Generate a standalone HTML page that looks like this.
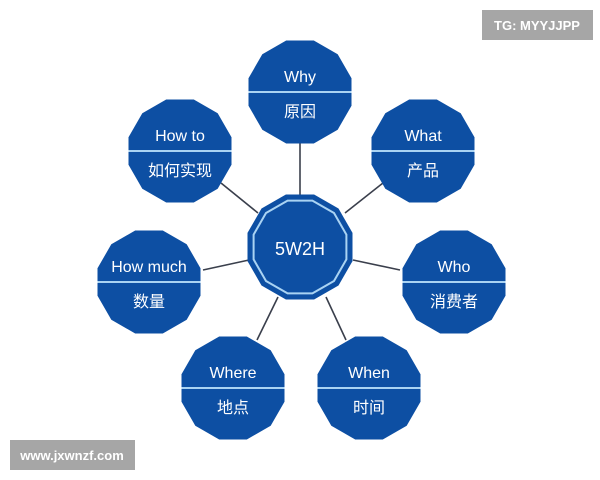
<!DOCTYPE html>
<html><head><meta charset="utf-8"><style>
html,body{margin:0;padding:0;background:#fff;width:600px;height:480px;overflow:hidden}
svg text{font-family:"Liberation Sans","Noto Sans CJK SC",sans-serif;fill:#fff;text-anchor:middle}
</style></head><body>
<svg width="600" height="480" viewBox="0 0 600 480" xmlns="http://www.w3.org/2000/svg">
<defs>
<polygon id="p" points="51.5,13.8 37.7,37.7 13.8,51.5 -13.8,51.5 -37.7,37.7 -51.5,13.8 -51.5,-13.8 -37.7,-37.7 -13.8,-51.5 13.8,-51.5 37.7,-37.7 51.5,-13.8" fill="#0d4fa3"/>
<g id="n"><use href="#p"/><line x1="-51.5" y1="0" x2="51.5" y2="0" stroke="#a9d3f3" stroke-width="2"/></g>
</defs>
<g stroke="#3a3f4c" stroke-width="1.6">
<line x1="300" y1="143" x2="300" y2="196"/>
<line x1="221" y1="183" x2="258" y2="213"/>
<line x1="383" y1="183" x2="345" y2="213"/>
<line x1="203" y1="270" x2="249" y2="260"/>
<line x1="400" y1="270" x2="353" y2="260"/>
<line x1="257" y1="340" x2="278" y2="297"/>
<line x1="346" y1="340" x2="326" y2="297"/>
</g>
<g transform="translate(300,92)"><use href="#n"/></g>
<g transform="translate(180,151)"><use href="#n"/></g>
<g transform="translate(423,151)"><use href="#n"/></g>
<g transform="translate(149,282)"><use href="#n"/></g>
<g transform="translate(454,282)"><use href="#n"/></g>
<g transform="translate(233,388)"><use href="#n"/></g>
<g transform="translate(369,388)"><use href="#n"/></g>
<g transform="translate(300,247)">
<polygon points="52.5,14.1 38.5,38.5 14.1,52.5 -14.1,52.5 -38.5,38.5 -52.5,14.1 -52.5,-14.1 -38.5,-38.5 -14.1,-52.5 14.1,-52.5 38.5,-38.5 52.5,-14.1" fill="#0d4fa3"/>
<polygon points="46.4,12.4 34,34 12.4,46.4 -12.4,46.4 -34,34 -46.4,12.4 -46.4,-12.4 -34,-34 -12.4,-46.4 12.4,-46.4 34,-34 46.4,-12.4" fill="none" stroke="#a9d3f3" stroke-width="2"/>
</g>
<g font-size="16" fill="#eaf3ff">
<text x="300" y="82">Why</text><text x="300" y="117">原因</text>
<text x="180" y="141">How to</text><text x="180" y="176">如何实现</text>
<text x="423" y="141">What</text><text x="423" y="176">产品</text>
<text x="149" y="272">How much</text><text x="149" y="307">数量</text>
<text x="454" y="272">Who</text><text x="454" y="307">消费者</text>
<text x="233" y="378">Where</text><text x="233" y="413">地点</text>
<text x="369" y="378">When</text><text x="369" y="413">时间</text>
<text x="300" y="255" font-size="18">5W2H</text>
</g>
<rect x="482" y="10" width="111" height="30" fill="#a6a6a6"/>
<text x="537" y="30" font-size="13" font-weight="bold">TG: MYYJJPP</text>
<rect x="10" y="440" width="125" height="30" fill="#a6a6a6"/>
<text x="72" y="460" font-size="13" font-weight="bold">www.jxwnzf.com</text>
</svg>
</body></html>
